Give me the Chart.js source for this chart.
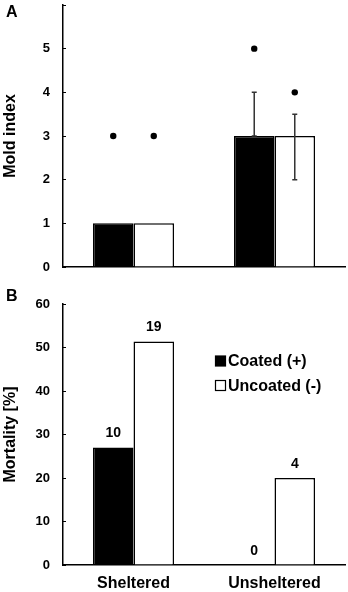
<!DOCTYPE html>
<html>
<head>
<meta charset="utf-8">
<script src="https://cdn.jsdelivr.net/npm/chart.js@4"></script>
<style>
    body { margin: 0; background: #fff; }
    #wrap { position: relative; width: 348px; height: 592px; }
    .panel { position: absolute; left: 0; }
    .tag { position: absolute; left: 6px; font: bold 16px 'Liberation Sans', Arial, sans-serif; color: #000; }
</style>
</head>
<body>
<div id="wrap">
    <div class="panel" style="top:0"><canvas id="mold" width="348" height="290"></canvas></div>
    <div class="panel" style="top:290px"><canvas id="mortality" width="348" height="302"></canvas></div>
    <div class="tag" style="top:3px">A</div>
    <div class="tag" style="top:287px">B</div>
</div>
<script>
    /* Values */
    const categories = ['Sheltered', 'Unsheltered'];
    const seriesNames = ['Coated (+)', 'Uncoated (-)'];

    // Panel A: mold index (bar = median, dot = max, whiskers)
    const moldCoated = [1, 3];
    const moldUncoated = [1, 3];
    const moldDotCoated = [3, 5];
    const moldDotUncoated = [3, 4];
    const errLowCoated = [null, 3];
    const errHighCoated = [null, 4];
    const errLowUncoated = [null, 2];
    const errHighUncoated = [null, 3.5];
    const moldTickLabels = ['0', '1', '2', '3', '4', '5', ''];

    // Panel B: mortality [%] and dead counts above bars
    const mortalityCoated = [27.0, 0];
    const mortalityUncoated = [51.4, 20.0];
    const deadCoated = [10, 0];
    const deadUncoated = [19, 4];

    const FONT = "'Liberation Sans', Arial, sans-serif";
    const fills = ['#000000', '#ffffff'];

    // whiskers + dots drawn at each bar's own x
    const moldExtras = {
        id: 'moldExtras',
        afterDatasetsDraw(chart) {
            const { ctx } = chart;
            const y = chart.scales.y;
            const lows = [errLowCoated, errLowUncoated];
            const highs = [errHighCoated, errHighUncoated];
            const dots = [moldDotCoated, moldDotUncoated];
            ctx.save();
            chart.data.datasets.forEach((ds, i) => {
                chart.getDatasetMeta(i).data.forEach((bar, j) => {
                    if (lows[i][j] != null) {
                        const y1 = y.getPixelForValue(lows[i][j]);
                        const y2 = y.getPixelForValue(highs[i][j]);
                        ctx.strokeStyle = '#333333';
                        ctx.lineWidth = 1.5;
                        ctx.beginPath();
                        ctx.moveTo(bar.x, y1); ctx.lineTo(bar.x, y2);
                        ctx.moveTo(bar.x - 2.5, y1); ctx.lineTo(bar.x + 2.5, y1);
                        ctx.moveTo(bar.x - 2.5, y2); ctx.lineTo(bar.x + 2.5, y2);
                        ctx.stroke();
                    }
                    ctx.fillStyle = '#000';
                    ctx.beginPath();
                    ctx.arc(bar.x, y.getPixelForValue(dots[i][j]), 3.2, 0, Math.PI * 2);
                    ctx.fill();
                });
            });
            ctx.restore();
        },
    };

    // counts above bars + legend box
    const mortalityExtras = {
        id: 'mortalityExtras',
        afterDatasetsDraw(chart) {
            const { ctx } = chart;
            const counts = [deadCoated, deadUncoated];
            ctx.save();
            ctx.fillStyle = '#000';
            ctx.font = 'bold 14px ' + FONT;
            ctx.textAlign = 'center';
            ctx.textBaseline = 'bottom';
            chart.data.datasets.forEach((ds, i) => {
                chart.getDatasetMeta(i).data.forEach((bar, j) => {
                    ctx.fillText(String(counts[i][j]), bar.x, bar.y - 7);
                });
            });
            // legend
            ctx.font = 'bold 16px ' + FONT;
            ctx.textAlign = 'left';
            ctx.textBaseline = 'middle';
            chart.data.datasets.forEach((ds, i) => {
                const ly = 71 + i * 24.5;
                ctx.fillStyle = ds.backgroundColor;
                ctx.fillRect(215.5, ly - 5, 10, 10);
                ctx.strokeStyle = '#000';
                ctx.lineWidth = 1.2;
                ctx.strokeRect(215.5, ly - 5, 10, 10);
                ctx.fillStyle = '#000';
                ctx.fillText(ds.label, 228, ly + 1);
            });
            ctx.restore();
        },
    };

    function barSets(a, b) {
        return [a, b].map((values, i) => ({
            label: seriesNames[i],
            data: values,
            backgroundColor: fills[i],
            borderColor: '#000000',
            borderWidth: 1.5,
            barPercentage: 1,
            categoryPercentage: 0.575,
        }));
    }

    function yAxis(title, max, step, labels) {
        return {
            min: 0,
            max: max,
            afterFit: (s) => { s.width = 63; s.paddingTop = 0; s.paddingBottom = 0; },
            border: { display: true, color: '#000', width: 1.5 },
            grid: { display: true, drawOnChartArea: false, drawTicks: true, tickLength: -3, color: '#000', lineWidth: 1 },
            ticks: {
                stepSize: step,
                autoSkip: false,
                padding: 16,
                color: '#000',
                font: { family: FONT, size: 13, weight: 'bold' },
                callback: labels ? (v, i) => labels[i] : (v) => v,
            },
            title: {
                display: true,
                text: title,
                color: '#000',
                padding: { top: 1, bottom: 0 },
                font: { family: FONT, size: 16, weight: 'bold' },
            },
        };
    }

    function xAxis(h, showLabels) {
        return {
            afterFit: (s) => { s.height = h; s.paddingLeft = 0; s.paddingRight = 0; },
            border: { display: true, color: '#000', width: 1.5 },
            grid: { display: false, drawTicks: false },
            ticks: {
                display: showLabels,
                padding: 9,
                color: '#000',
                font: { family: FONT, size: 16, weight: 'bold' },
            },
        };
    }

    Chart.defaults.animation = false;

    new Chart(document.getElementById('mold'), {
        type: 'bar',
        data: { labels: categories, datasets: barSets(moldCoated, moldUncoated) },
        options: {
            responsive: false,
            layout: { autoPadding: false, padding: { top: 5, right: 3, left: 0, bottom: 0 } },
            plugins: { legend: { display: false }, tooltip: { enabled: false } },
            scales: {
                x: xAxis(23, false),
                y: yAxis('Mold index', 6, 1, moldTickLabels),
            },
        },
        plugins: [moldExtras],
    });

    new Chart(document.getElementById('mortality'), {
        type: 'bar',
        data: { labels: categories, datasets: barSets(mortalityCoated, mortalityUncoated) },
        options: {
            responsive: false,
            layout: { autoPadding: false, padding: { top: 14, right: 3, left: 0, bottom: 0 } },
            plugins: { legend: { display: false }, tooltip: { enabled: false } },
            scales: {
                x: xAxis(27, true),
                y: yAxis('Mortality [%]', 60, 10, null),
            },
        },
        plugins: [mortalityExtras],
    });
</script>
</body>
</html>
